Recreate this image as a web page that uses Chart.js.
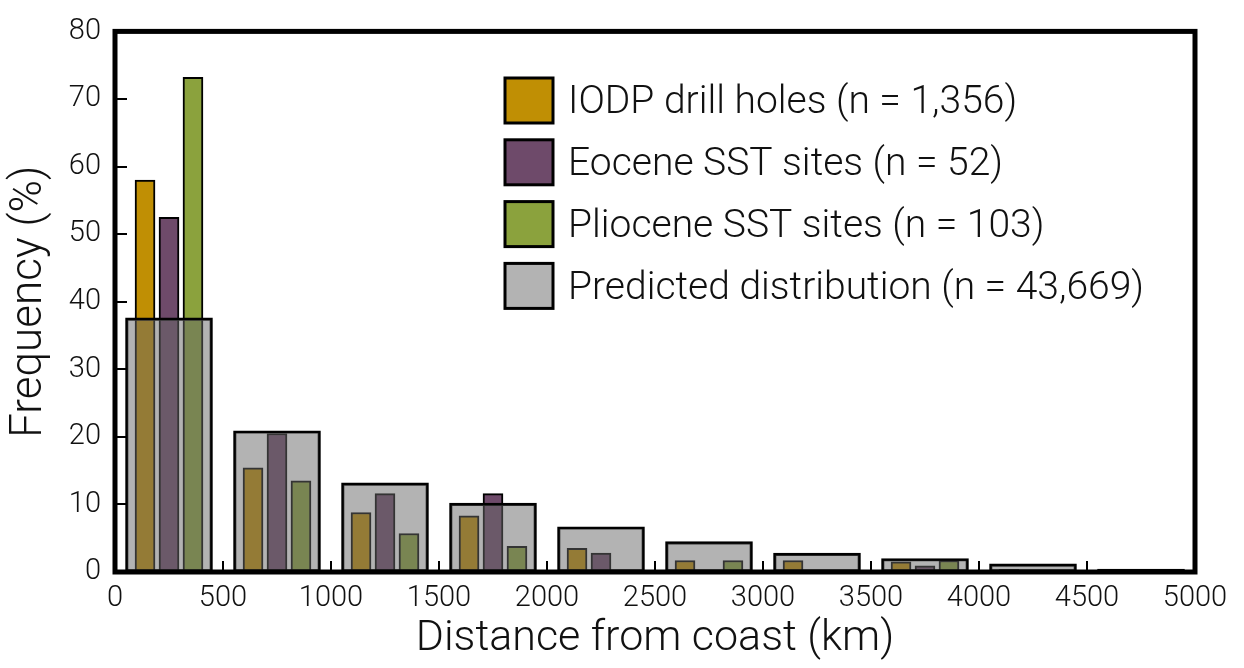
<!DOCTYPE html>
<html>
<head>
<meta charset="utf-8">
<script src="https://cdn.jsdelivr.net/npm/chart.js@4.4.1/dist/chart.umd.min.js"></script>
<style>
html,body{margin:0;padding:0;background:#ffffff;}
#wrap{width:1244px;height:668px;position:relative;}
</style>
</head>
<body>
<div id="wrap"><canvas id="c" width="1244" height="668"></canvas></div>
<script>
// ---- data ----
const binCenters = [250, 750, 1250, 1750, 2250, 2750, 3250, 3750, 4250, 4750];
const iodp      = [58.0, 15.4, 8.8, 8.3, 3.5, 1.7, 1.7, 1.5, 0.4, 0];
const eocene    = [52.5, 20.5, 11.6, 11.6, 2.8, 0, 0, 0.9, 0, 0];
const pliocene  = [73.2, 13.5, 5.7, 3.8, 0, 1.7, 0, 1.7, 0, 0];
const predicted = [37.6, 20.9, 13.2, 10.2, 6.7, 4.5, 2.8, 2.0, 1.2, 0.45];
const seriesLabels = [
  'IODP drill holes (n = 1,356)',
  'Eocene SST sites (n = 52)',
  'Pliocene SST sites (n = 103)',
  'Predicted distribution (n = 43,669)'
];
const xTitle = 'Distance from coast (km)';
const yTitle = 'Frequency (%)';

// ---- styles ----
const FONT = "'Roboto', 'Liberation Sans', sans-serif";
const colors = ['#c08f04', '#6e4a6a', '#8ba23d'];
const predictedFill = 'rgba(103,103,103,0.5)';
const predictedLegend = '#b3b3b3';
const groupOffset = 111;   // km shift of the side bars inside a bin

function pts(vals, off) {
  return binCenters.map((c, i) => ({ x: c + off, y: vals[i] }));
}

const colored = [iodp, eocene, pliocene].map((vals, k) => ({
  label: seriesLabels[k],
  data: pts(vals, (k - 1) * groupOffset),
  backgroundColor: colors[k],
  borderColor: '#000',
  borderWidth: 2,
  borderSkipped: false,
  barThickness: 20,
  grouped: false,
  order: 2
}));
const gray = {
  label: seriesLabels[3],
  data: pts(predicted, 0),
  backgroundColor: predictedFill,
  borderColor: '#000',
  borderWidth: 2.5,
  borderSkipped: false,
  barThickness: 87,
  grouped: false,
  order: 1,
  legendFill: predictedLegend
};

const framePlugin = {
  id: 'frame',
  afterDatasetsDraw(chart) {
    const { ctx, chartArea: a, scales } = chart;
    ctx.save();
    ctx.strokeStyle = '#000';
    ctx.lineWidth = 2;
    ctx.beginPath();
    scales.x.ticks.forEach((t, i) => {
      if (t.value <= scales.x.min || t.value >= scales.x.max) return;
      const px = Math.round(scales.x.getPixelForTick(i));
      ctx.moveTo(px, a.bottom);
      ctx.lineTo(px, a.bottom - 11);
    });
    scales.y.ticks.forEach((t, i) => {
      if (t.value <= scales.y.min || t.value >= scales.y.max) return;
      const py = Math.round(scales.y.getPixelForTick(i));
      ctx.moveTo(a.left, py);
      ctx.lineTo(a.left + 12, py);
    });
    ctx.stroke();
    ctx.lineWidth = 5;
    ctx.strokeRect(a.left, a.top, a.right - a.left, a.bottom - a.top);
    ctx.restore();
  },
  afterDraw(chart) {
    const { ctx } = chart;
    const ds = chart.data.datasets;
    ctx.save();
    ctx.font = '300 39px ' + FONT;
    ctx.textBaseline = 'middle';
    const x0 = 505, y0 = 78, step = 61.8, w = 48, h = 45;
    ds.forEach((d, i) => {
      const y = y0 + i * step;
      ctx.fillStyle = d.legendFill || d.backgroundColor;
      ctx.fillRect(x0, y, w, h);
      ctx.strokeStyle = '#000';
      ctx.lineWidth = 3;
      ctx.strokeRect(x0, y, w, h);
      ctx.fillStyle = '#111';
      ctx.fillText(d.label, 568, y + h / 2 + 3);
    });
    ctx.restore();
  }
};

new Chart(document.getElementById('c'), {
  type: 'bar',
  data: { datasets: [...colored, gray] },
  options: {
    responsive: false,
    animation: false,
    devicePixelRatio: 1,
    layout: { padding: { left: 0, right: 49, top: 25, bottom: 0 } },
    plugins: { legend: { display: false }, tooltip: { enabled: false } },
    scales: {
      x: {
        type: 'linear',
        min: 0, max: 5000,
        offset: false,
        grid: { display: false, drawTicks: false, tickLength: 0 },
        border: { display: false },
        ticks: {
          stepSize: 500, padding: 9, color: '#111',
          font: { family: FONT, size: 29, weight: 300 },
          maxRotation: 0, autoSkip: false,
          callback: (v) => String(v)
        },
        title: { display: true, text: xTitle, color: '#111', font: { family: FONT, size: 43, weight: 300 }, padding: { top: 0, bottom: 3 } },
        afterFit(s) { s.height = 96; }
      },
      y: {
        min: 0, max: 80,
        grid: { display: false, drawTicks: false, tickLength: 0 },
        border: { display: false },
        ticks: { stepSize: 10, padding: 14, color: '#111', font: { family: FONT, size: 29, weight: 300 } },
        title: { display: true, text: yTitle, color: '#111', font: { family: FONT, size: 44, weight: 300 }, padding: { top: 4, bottom: 0 } },
        afterFit(s) { s.width = 115; }
      }
    }
  },
  plugins: [framePlugin]
});
</script>
</body>
</html>
